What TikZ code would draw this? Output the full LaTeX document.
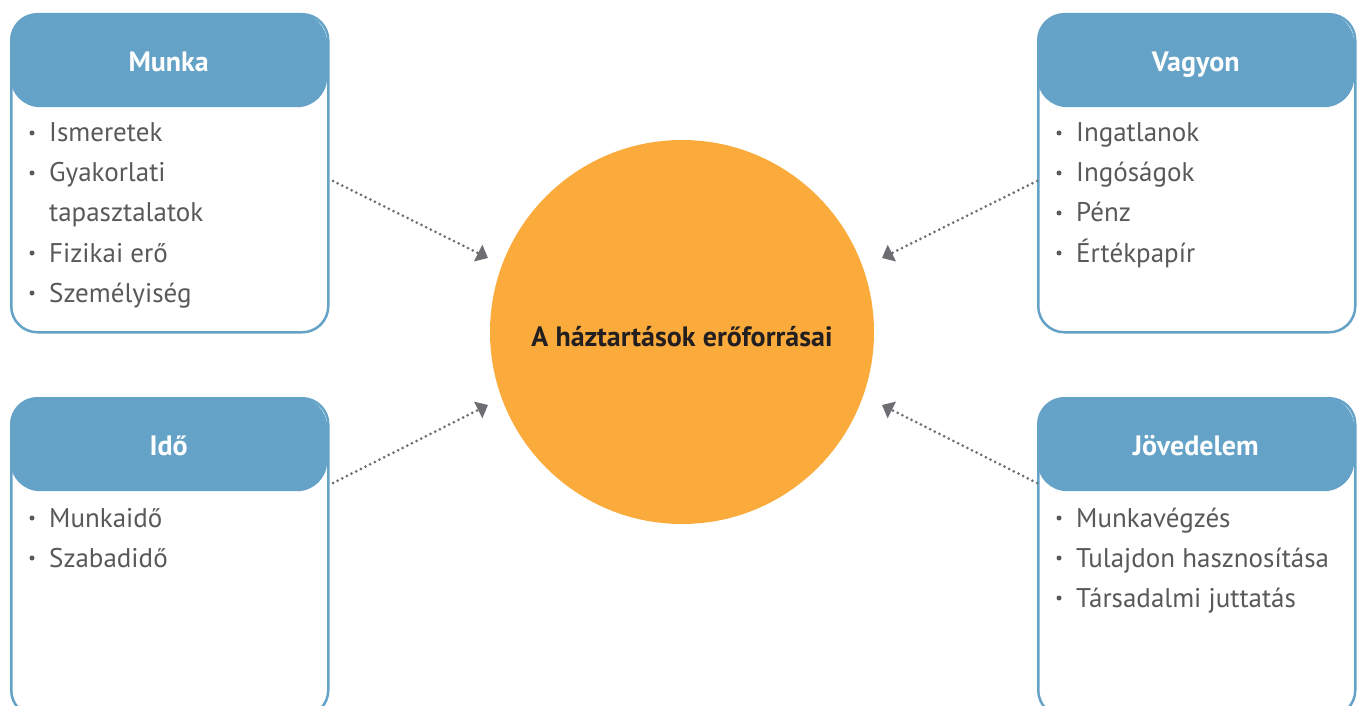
\documentclass[tikz,border=0pt]{standalone}
\usepackage{fontspec}
\setmainfont{PT Sans}
\usetikzlibrary{arrows.meta}
\definecolor{hdr}{HTML}{65A2C7}
\definecolor{orng}{HTML}{FAAB3C}
\definecolor{txt}{HTML}{58595B}
\definecolor{ttl}{HTML}{231F20}
\definecolor{arr}{HTML}{6D6E71}
\tikzset{
 box/.style={draw=hdr, line width=2.5pt, fill=white, rounded corners=26pt, minimum width=317pt, minimum height=318pt, inner sep=0pt, anchor=north west},
 hbox/.style={fill=hdr, rounded corners=30pt, minimum width=317pt, minimum height=94pt, anchor=north west, font=\fontsize{28}{32}\selectfont\bfseries, text=white, inner sep=0pt, text height=22pt, text depth=0pt},
 item/.style={anchor=base west, font=\fontsize{27}{32}\selectfont, text=txt, inner sep=0pt},
 bul/.style={circle, fill=txt, inner sep=0pt, minimum size=5pt},
 conn/.style={draw=arr, line width=3pt, dash pattern=on 0pt off 5.2pt, line cap=round, -{Triangle[length=11pt,width=18pt]}},
}
\begin{document}
\begin{tikzpicture}[x=1pt,y=-1pt]
\useasboundingbox (0,0) rectangle (1358,706);
\clip (0,0) rectangle (1358,706);
% boxes
\node[box] (munka) at (10,13) {};
\node[hbox] (munkaH) at (10,13) {Munka};
\node[box] (vagyon) at (1037,13) {};
\node[hbox] (vagyonH) at (1037,13) {Vagyon};
\node[box] (ido) at (10,397) {};
\node[hbox] (idoH) at (10,397) {Idő};
\node[box] (jov) at (1037,397) {};
\node[hbox] (jovH) at (1037,397) {Jövedelem};
% Munka items
\foreach \n/\y/\t in {m1/142/Ismeretek, m2/182/Gyakorlati, m4/262/Fizikai erő, m5/302/Személyiség}{
  \node[bul] (b\n) at (32,\y-9) {};
  \node[item] (\n) at (49,\y) {\t};
}
\node[item] (m3) at (49,222) {tapasztalatok};
% Vagyon items
\foreach \n/\y/\t in {v1/142/Ingatlanok, v2/182/Ingóságok, v3/222/Pénz, v4/262/Értékpapír}{
  \node[bul] (b\n) at (1059,\y-9) {};
  \node[item] (\n) at (1076,\y) {\t};
}
% Ido items
\foreach \n/\y/\t in {i1/527/Munkaidő, i2/567/Szabadidő}{
  \node[bul] (b\n) at (32,\y-9) {};
  \node[item] (\n) at (49,\y) {\t};
}
% Jovedelem items
\foreach \n/\y/\t in {j1/527/Munkavégzés, j2/567/Tulajdon hasznosítása, j3/607/Társadalmi juttatás}{
  \node[bul] (b\n) at (1059,\y-9) {};
  \node[item] (\n) at (1076,\y) {\t};
}
% circle
\node[circle, fill=orng, minimum size=384pt, inner sep=0pt] (c) at (682,332) {};
\node[font=\fontsize{28}{32}\selectfont\bfseries, text=ttl, inner sep=0pt] (title) at (682,337) {A háztartások erőforrásai};
% connectors
\coordinate (s1) at (333,181); \coordinate (e1) at (488,258);
\coordinate (s2) at (1037,181); \coordinate (e2) at (882,258);
\coordinate (s3) at (333,483); \coordinate (e3) at (488,405);
\coordinate (s4) at (1037,483); \coordinate (e4) at (882,405);
\draw[conn] (s1) -- (e1);
\draw[conn] (s2) -- (e2);
\draw[conn] (s3) -- (e3);
\draw[conn] (s4) -- (e4);
\end{tikzpicture}
\end{document}
